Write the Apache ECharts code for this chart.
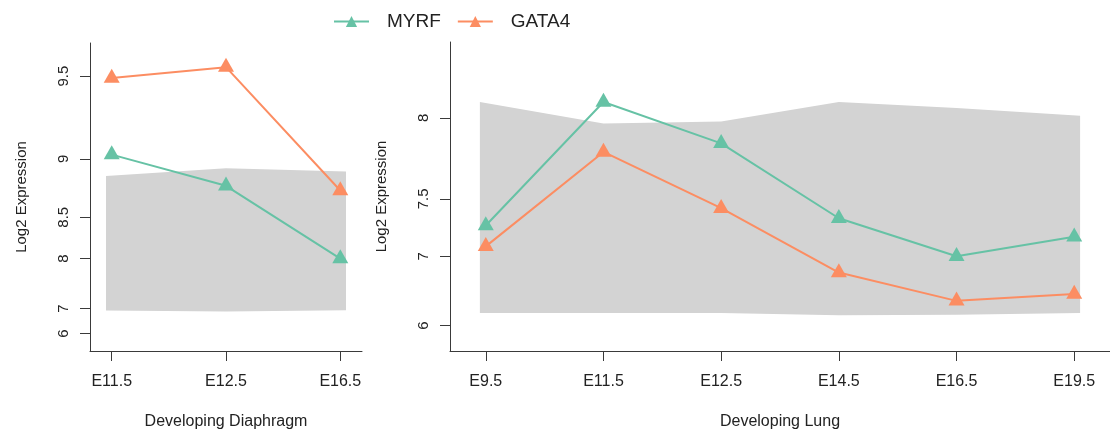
<!DOCTYPE html>
<html>
<head>
<meta charset="utf-8">
<script src="https://cdn.jsdelivr.net/npm/echarts@6/dist/echarts.min.js"></script>
<style>
html,body{margin:0;padding:0;background:#fff;}
#chart{width:1110px;height:435px;}
</style>
</head>
<body>
<div id="chart"></div>
<script>
// ---- data (log2 expression) ----
const diaphragmStages = ['E11.5', 'E12.5', 'E16.5'];
const diaphragmMYRF   = [9.03, 8.79, 8.00];
const diaphragmGATA4  = [9.49, 9.545, 8.75];
const diaphragmBandHigh = [8.87, 8.93, 8.905];
const diaphragmBandLow  = [6.94, 6.91, 6.95];
const diaphragmTicks = [6, 7, 8, 8.5, 9, 9.5];

const lungStages = ['E9.5', 'E11.5', 'E12.5', 'E14.5', 'E16.5', 'E19.5'];
const lungMYRF   = [7.29, 8.08, 7.86, 7.35, 7.00, 7.19];
const lungGATA4  = [7.10, 7.81, 7.43, 6.82, 6.44, 6.54];
const lungBandHigh = [8.08, 7.97, 7.98, 8.08, 8.05, 8.01];
const lungBandLow  = [6.24, 6.24, 6.24, 6.20, 6.21, 6.24];
const lungTicks = [6, 7, 7.5, 8];

const seriesNames = ['MYRF', 'GATA4'];
const colors = ['#66C2A5', '#FC8D62'];

// ---- helpers ----
const toRaw = v => Math.pow(2, v);          // axis is linear in raw expression
const FONT = 'Liberation Sans, Arial, Helvetica, sans-serif';
const AXIS_COLOR = '#3a3a3a';
const TEXT_COLOR = '#222';
const BAND_PAD = 0.05;

function bandSeries(idx, low, high) {
  const n = low.length;
  return {
    type: 'custom', xAxisIndex: idx, yAxisIndex: idx, silent: true, z: 1,
    data: low.map((v, i) => [i + 1, toRaw(v), toRaw(high[i])]),
    renderItem: function (params, api) {
      if (params.dataIndex !== 0) return null;
      const pts = [];
      for (let i = 0; i < n; i++) {
        const x = i + 1 + (i === 0 ? -BAND_PAD : (i === n - 1 ? BAND_PAD : 0));
        pts.push(api.coord([x, toRaw(high[i])]));
      }
      for (let i = n - 1; i >= 0; i--) {
        const x = i + 1 + (i === 0 ? -BAND_PAD : (i === n - 1 ? BAND_PAD : 0));
        pts.push(api.coord([x, toRaw(low[i])]));
      }
      return { type: 'polygon', shape: { points: pts }, style: { fill: '#D3D3D3' } };
    }
  };
}

function lineSeries(idx, name, color, values) {
  return {
    type: 'line', name: name, xAxisIndex: idx, yAxisIndex: idx, z: 3,
    data: values.map((v, i) => [i + 1, toRaw(v)]),
    symbol: 'triangle', symbolSize: [16, 14], symbolOffset: [0, -2.3],
    lineStyle: { color: color, width: 2 },
    itemStyle: { color: color },
    emphasis: { disabled: true }
  };
}

function xAxis(idx, stages, min, max, title) {
  const vals = stages.map((s, i) => i + 1);
  return {
    type: 'value', gridIndex: idx, min: min, max: max,
    name: title, nameLocation: 'middle', nameGap: 63,
    nameTextStyle: { fontFamily: FONT, fontSize: 16, color: TEXT_COLOR },
    axisLine: { show: true, onZero: false, lineStyle: { color: AXIS_COLOR, width: 1 } },
    axisTick: { show: true, length: 10, customValues: vals, lineStyle: { color: AXIS_COLOR } },
    axisLabel: { customValues: vals, margin: 23, fontFamily: FONT, fontSize: 16, color: TEXT_COLOR,
      formatter: v => stages[Math.round(v) - 1] },
    splitLine: { show: false }
  };
}

function yAxis(idx, ticks, min, max) {
  const vals = ticks.map(toRaw);
  return {
    type: 'value', gridIndex: idx, min: min, max: max,
    name: 'Log2 Expression', nameLocation: 'middle', nameGap: 61,
    nameTextStyle: { fontFamily: FONT, fontSize: 15, color: TEXT_COLOR },
    axisLine: { show: true, onZero: false, lineStyle: { color: AXIS_COLOR, width: 1 } },
    axisTick: { show: true, length: 10, customValues: vals, lineStyle: { color: AXIS_COLOR } },
    axisLabel: { customValues: vals, rotate: 90, margin: 19, fontFamily: FONT, fontSize: 15, color: TEXT_COLOR,
      formatter: v => String(Math.round(Math.log2(v) * 10) / 10) },
    splitLine: { show: false }
  };
}

const chart = echarts.init(document.getElementById('chart'), null, { renderer: 'canvas' });
chart.setOption({
  animation: false,
  backgroundColor: '#fff',
  color: colors,
  legend: {
    data: seriesNames, left: 333, top: 12, padding: 0,
    itemWidth: 35, itemHeight: 14, itemGap: 16,
    textStyle: { fontFamily: FONT, fontSize: 19, color: TEXT_COLOR, padding: [0, 0, 0, 13] }
  },
  grid: [
    { left: 90, top: 43, width: 272, height: 310 },
    { left: 450, top: 42, width: 664, height: 310 }
  ],
  xAxis: [
    xAxis(0, diaphragmStages, 0.81, 3.19, 'Developing Diaphragm'),
    xAxis(1, lungStages, 0.696, 6.304, 'Developing Lung')
  ],
  yAxis: [
    yAxis(0, diaphragmTicks, 19, 809),
    yAxis(1, lungTicks, 40.5, 326)
  ],
  series: [
    bandSeries(0, diaphragmBandLow, diaphragmBandHigh),
    bandSeries(1, lungBandLow, lungBandHigh),
    lineSeries(0, 'MYRF', colors[0], diaphragmMYRF),
    lineSeries(0, 'GATA4', colors[1], diaphragmGATA4),
    lineSeries(1, 'MYRF', colors[0], lungMYRF),
    lineSeries(1, 'GATA4', colors[1], lungGATA4)
  ]
});
</script>
</body>
</html>
